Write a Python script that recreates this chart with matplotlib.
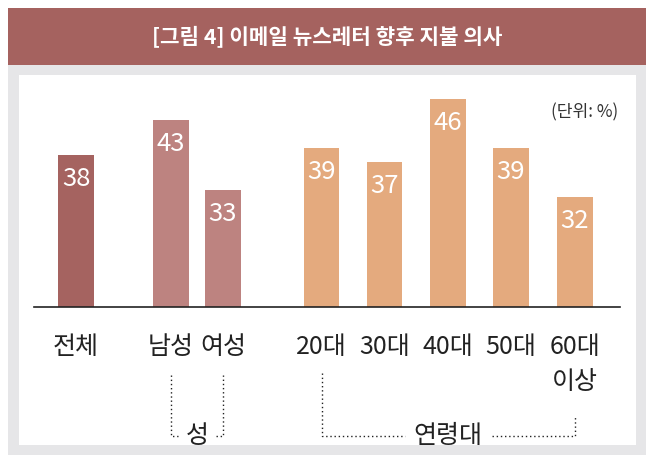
import matplotlib.pyplot as plt
from matplotlib.patches import Rectangle
from matplotlib.transforms import blended_transform_factory

plt.rcParams['font.family'] = ['Noto Sans CJK KR', 'DejaVu Sans']

title = "[그림 4] 이메일 뉴스레터 향후 지불 의사"
unit_label = "(단위: %)"
categories = ["전체", "남성", "여성", "20대", "30대", "40대", "50대", "60대\n이상"]
values = [38, 43, 33, 39, 37, 46, 39, 32]
groups = ["total", "gender", "gender", "age", "age", "age", "age", "age"]
group_names = ["성", "연령대"]

# layout (pixels on a 657x467 canvas)
W, H = 657, 467
x_pos = [76, 171, 223, 321.5, 384.5, 448, 511, 575]
colors = {"total": "#A56360", "gender": "#BD8380", "age": "#E4AA7E"}
base_y, top_y = 306.7, 90
px_per_unit = 7.0
ymin = 16.3

fig = plt.figure(figsize=(W / 100, H / 100), dpi=100)
bg = fig.add_axes([0, 0, 1, 1])
bg.set_xlim(0, W)
bg.set_ylim(H, 0)
bg.axis("off")
bg.add_patch(Rectangle((8, 64.5), 638, 390, color="#E6E6E8", lw=0))
bg.add_patch(Rectangle((19, 75), 617, 370, color="white", lw=0))
bg.add_patch(Rectangle((8, 8), 638, 56.5, color="#A5625F", lw=0))
bg.text(327, 36, title, color="white", fontsize=15.3, fontweight="bold",
        ha="center", va="center")
bg.text(618, 112, unit_label, ha="right", va="center", fontsize=12.3, color="#333333")

ax = fig.add_axes([34 / W, (H - base_y) / H, (620 - 34) / W, (base_y - top_y) / H])
ax.set_xlim(34, 620)
ax.set_ylim(ymin, ymin + (base_y - top_y) / px_per_unit)
ax.patch.set_alpha(0)
for s in ["top", "left", "right"]:
    ax.spines[s].set_visible(False)
ax.spines["bottom"].set_color("#222222")
ax.spines["bottom"].set_linewidth(1.2)
ax.set_yticks([])

bars = ax.bar(x_pos, values, width=35.5, color=[colors[g] for g in groups])
for x, v in zip(x_pos, values):
    ax.annotate(str(v), (x, v), xytext=(0, -24), textcoords="offset pixels",
                ha="center", va="center", color="white", fontsize=18.5)

ax.set_xticks(x_pos, categories)
ax.tick_params(axis="x", length=0, pad=19.5, labelsize=18, labelcolor="#222222")
for lab in ax.get_xticklabels():
    lab.set_linespacing(1.45)

# group brackets
tr = blended_transform_factory(ax.transData, bg.transData)
dot = dict(color="#222222", lw=1.0, linestyle=(0, (1, 2)), transform=tr, clip_on=False)
bracket_y = 436
spans = [(x_pos[1], x_pos[2], 375, 375, 19), (x_pos[3], x_pos[7], 373, 416.5, 43.5)]
for name, (x0, x1, y0, y1, gap) in zip(group_names, spans):
    xc = (x0 + x1) / 2
    ax.plot([x0, x0, xc - gap], [y0, bracket_y, bracket_y], **dot)
    ax.plot([xc + gap, x1, x1], [bracket_y, bracket_y, y1], **dot)
    ax.text(xc, bracket_y, name, transform=tr, ha="center", va="center",
            fontsize=18, color="#222222")

fig.savefig("out.png", dpi=100)
